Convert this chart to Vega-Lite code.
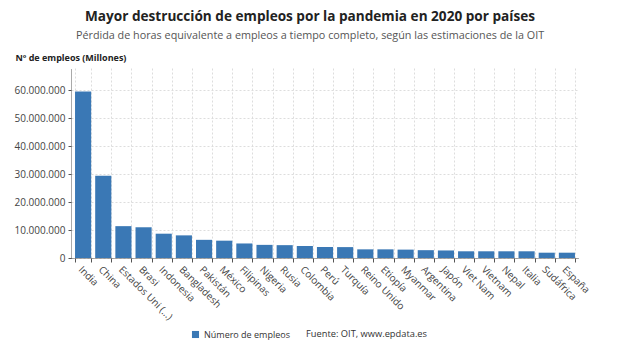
{
  "$schema": "https://vega.github.io/schema/vega-lite/v6.json",
  "autosize": "none",
  "width": 508,
  "height": 190,
  "padding": {"left": 71, "top": 68, "right": 41, "bottom": 92},
  "background": "white",
  "config": {
    "font": "Open Sans",
    "view": {"stroke": null},
    "locale": {"number": {"decimal": ",", "thousands": ".", "grouping": [3], "currency": ["", " €"]}}
  },
  "title": {
    "text": "Mayor destrucción de empleos por la pandemia en 2020 por países",
    "subtitle": "Pérdida de horas equivalente a empleos a tiempo completo, según las estimaciones de la OIT",
    "anchor": "middle",
    "dx": -15,
    "offset": 12,
    "font": "Open Sans",
    "fontSize": 13.6,
    "fontWeight": "bold",
    "color": "#222222",
    "subtitleFont": "Open Sans",
    "subtitleFontSize": 10.8,
    "subtitleColor": "#555555",
    "subtitlePadding": 7
  },
  "data": {
    "values": [
      {"pais": "India", "empleos": 59600000},
      {"pais": "China", "empleos": 29400000},
      {"pais": "Estados Uni (...)", "empleos": 11400000},
      {"pais": "Brasi", "empleos": 11000000},
      {"pais": "Indonesia", "empleos": 8700000},
      {"pais": "Bangladesh", "empleos": 8100000},
      {"pais": "Pakistán", "empleos": 6500000},
      {"pais": "México", "empleos": 6200000},
      {"pais": "Filipinas", "empleos": 5200000},
      {"pais": "Nigeria", "empleos": 4700000},
      {"pais": "Rusia", "empleos": 4600000},
      {"pais": "Colombia", "empleos": 4300000},
      {"pais": "Perú", "empleos": 3900000},
      {"pais": "Turquía", "empleos": 3900000},
      {"pais": "Reino Unido", "empleos": 3100000},
      {"pais": "Etiopía", "empleos": 3100000},
      {"pais": "Myanmar", "empleos": 3000000},
      {"pais": "Argentina", "empleos": 2800000},
      {"pais": "Japón", "empleos": 2700000},
      {"pais": "Viet Nam", "empleos": 2400000},
      {"pais": "Vietnam", "empleos": 2400000},
      {"pais": "Nepal", "empleos": 2400000},
      {"pais": "Italia", "empleos": 2400000},
      {"pais": "Sudáfrica", "empleos": 1900000},
      {"pais": "España", "empleos": 1900000}
    ]
  },
  "mark": {"type": "bar"},
  "encoding": {
    "x": {
      "field": "pais",
      "type": "nominal",
      "sort": null,
      "scale": {"paddingInner": 0.2, "paddingOuter": 0.2},
      "axis": {
        "title": "Fuente: OIT, www.epdata.es",
        "titleX": 295,
        "titleY": 75,
        "titleBaseline": "middle",
        "titleFont": "Open Sans",
        "titleFontSize": 9.3,
        "titleFontWeight": "normal",
        "titleColor": "#333333",
        "labelAngle": 45,
        "labelAlign": "left",
        "labelBaseline": "top",
        "labelFont": "Open Sans",
        "labelFontSize": 10,
        "labelColor": "#444444",
        "labelPadding": 2,
        "labelOverlap": false,
        "domainColor": "#555555",
        "domainDash": [1, 1],
        "tickColor": "#555555",
        "tickSize": 4,
        "tickBand": "extent",
        "grid": true,
        "gridColor": "#dddddd",
        "gridDash": [2, 2]
      }
    },
    "y": {
      "field": "empleos",
      "type": "quantitative",
      "scale": {"domain": [0, 68000000], "nice": false},
      "axis": {
        "title": "Nº de empleos (Millones)",
        "titleAngle": 0,
        "titleAlign": "left",
        "titleBaseline": "middle",
        "titleX": -56,
        "titleY": -11,
        "titleFont": "Open Sans",
        "titleFontSize": 9,
        "titleFontWeight": "bold",
        "titleColor": "#222222",
        "values": [0, 10000000, 20000000, 30000000, 40000000, 50000000, 60000000],
        "format": ",d",
        "labelFont": "Open Sans",
        "labelFontSize": 10,
        "labelColor": "#444444",
        "labelPadding": 3,
        "domainColor": "#555555",
        "domainDash": [1, 1],
        "tickColor": "#555555",
        "tickSize": 3,
        "gridColor": "#dddddd",
        "gridDash": [2, 2]
      }
    },
    "color": {
      "datum": "Número de empleos",
      "type": "nominal",
      "scale": {"range": ["#3a78b5"]},
      "legend": {
        "title": null,
        "orient": "none",
        "legendX": 120,
        "legendY": 262,
        "symbolType": "square",
        "symbolSize": 50,
        "labelFont": "Open Sans",
        "labelFontSize": 9,
        "labelColor": "#333333"
      }
    }
  }
}
